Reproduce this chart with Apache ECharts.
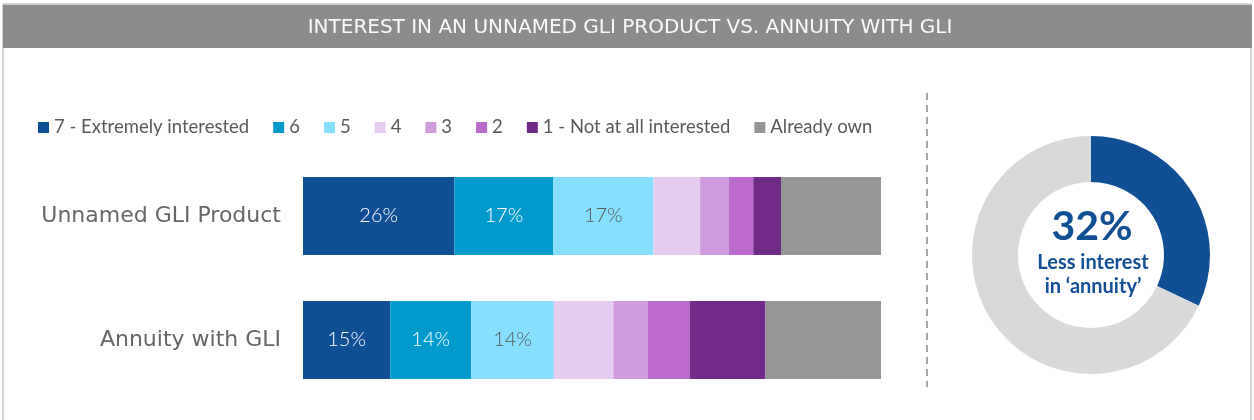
<!DOCTYPE html>
<html>
<head>
<meta charset="utf-8">
<script src="https://cdn.jsdelivr.net/npm/echarts@6/dist/echarts.min.js"></script>
<style>
  html, body { margin: 0; padding: 0; background: #fff; }
  #main { width: 1254px; height: 420px; }
</style>
</head>
<body>
<div id="main"></div>
<script>
// data
const categories = ['Unnamed GLI Product', 'Annuity with GLI'];
const seriesNames = ['7 - Extremely interested', '6', '5', '4', '3', '2', '1 - Not at all interested', 'Already own'];
const unnamedValues = [26.2, 17.1, 17.3, 8.1, 5.0, 4.2, 4.8, 17.3];
const annuityValues = [15.1, 14.0, 14.3, 10.3, 5.9, 7.3, 13.1, 20.0];
const donutValues = [32, 68];
const donutNames = ['Less interest', 'Rest'];

const colors = ['#114f94', '#009bcc', '#87dfff', '#e6ccf0', '#cf9bdd', '#b96acb', '#712a87', '#969696'];
const labelColors = ['#fff', '#fff', '#595959'];
const font = 'Lato, "Open Sans", sans-serif';
const wideFont = '"DejaVu Sans", sans-serif';

const chart = echarts.init(document.getElementById('main'));

const barSeries = seriesNames.map((name, i) => ({
  name: name,
  type: 'bar',
  stack: 'total',
  barWidth: 78,
  data: [unnamedValues[i], annuityValues[i]],
  itemStyle: { color: colors[i] },
  label: {
    show: i < 3,
    position: 'inside',
    color: labelColors[i] || '#595959',
    fontSize: 20,
    fontWeight: 300,
    fontFamily: font,
    formatter: (p) => Math.round(p.value) + '%'
  },
  emphasis: { disabled: true }
}));

const option = {
  backgroundColor: '#fff',
  animation: false,
  textStyle: { fontFamily: font },
  legend: {
    data: seriesNames,
    left: 33,
    top: 113,
    itemWidth: 11,
    itemHeight: 11,
    itemGap: 24,
    icon: 'rect',
    textStyle: { color: '#595959', fontSize: 18.5, fontFamily: font }
  },
  grid: { left: 303, right: 373, top: 154, bottom: 18 },
  xAxis: {
    type: 'value',
    min: 0,
    max: 100,
    show: false
  },
  yAxis: {
    type: 'category',
    data: categories,
    inverse: true,
    axisLine: { show: false },
    axisTick: { show: false },
    axisLabel: { color: '#666', fontSize: 22, margin: 22, fontFamily: wideFont }
  },
  series: barSeries.concat([{
    type: 'pie',
    center: [1091, 255],
    radius: [73, 119],
    startAngle: 90,
    clockwise: true,
    silent: true,
    label: { show: false },
    labelLine: { show: false },
    data: donutValues.map((v, i) => ({
      value: v,
      name: donutNames[i],
      itemStyle: { color: i === 0 ? '#114f94' : '#d9d9d9' }
    }))
  }]),
  graphic: [
    {
      type: 'rect',
      shape: { x: 3, y: 4, width: 1248, height: 430 },
      style: { fill: 'none', stroke: '#a6a6a6', lineWidth: 1 },
      z: 0
    },
    {
      type: 'rect',
      shape: { x: 3, y: 5, width: 1249, height: 43 },
      style: { fill: '#8c8c8c' },
      z: 1
    },
    {
      type: 'text',
      x: 630,
      y: 28,
      style: {
        text: 'INTEREST IN AN UNNAMED GLI PRODUCT VS. ANNUITY WITH GLI',
        fill: '#fafafa',
        font: '20px ' + wideFont,
        align: 'center',
        verticalAlign: 'middle'
      },
      z: 2
    },
    {
      type: 'line',
      shape: { x1: 927, y1: 93, x2: 927, y2: 387 },
      style: { stroke: '#a6a6a6', lineWidth: 2, lineDash: [7, 5] },
      z: 2
    },
    {
      type: 'text',
      x: 1092,
      y: 227,
      style: {
        text: '32%',
        fill: '#114f94',
        font: 'bold 41px ' + font,
        align: 'center',
        verticalAlign: 'middle'
      },
      z: 5
    },
    {
      type: 'text',
      x: 1093,
      y: 275,
      style: {
        text: 'Less interest\nin \u2018annuity\u2019',
        fill: '#114f94',
        font: 'bold 20px ' + font,
        lineHeight: 24,
        align: 'center',
        verticalAlign: 'middle'
      },
      z: 5
    }
  ]
};

chart.setOption(option);
</script>
</body>
</html>
